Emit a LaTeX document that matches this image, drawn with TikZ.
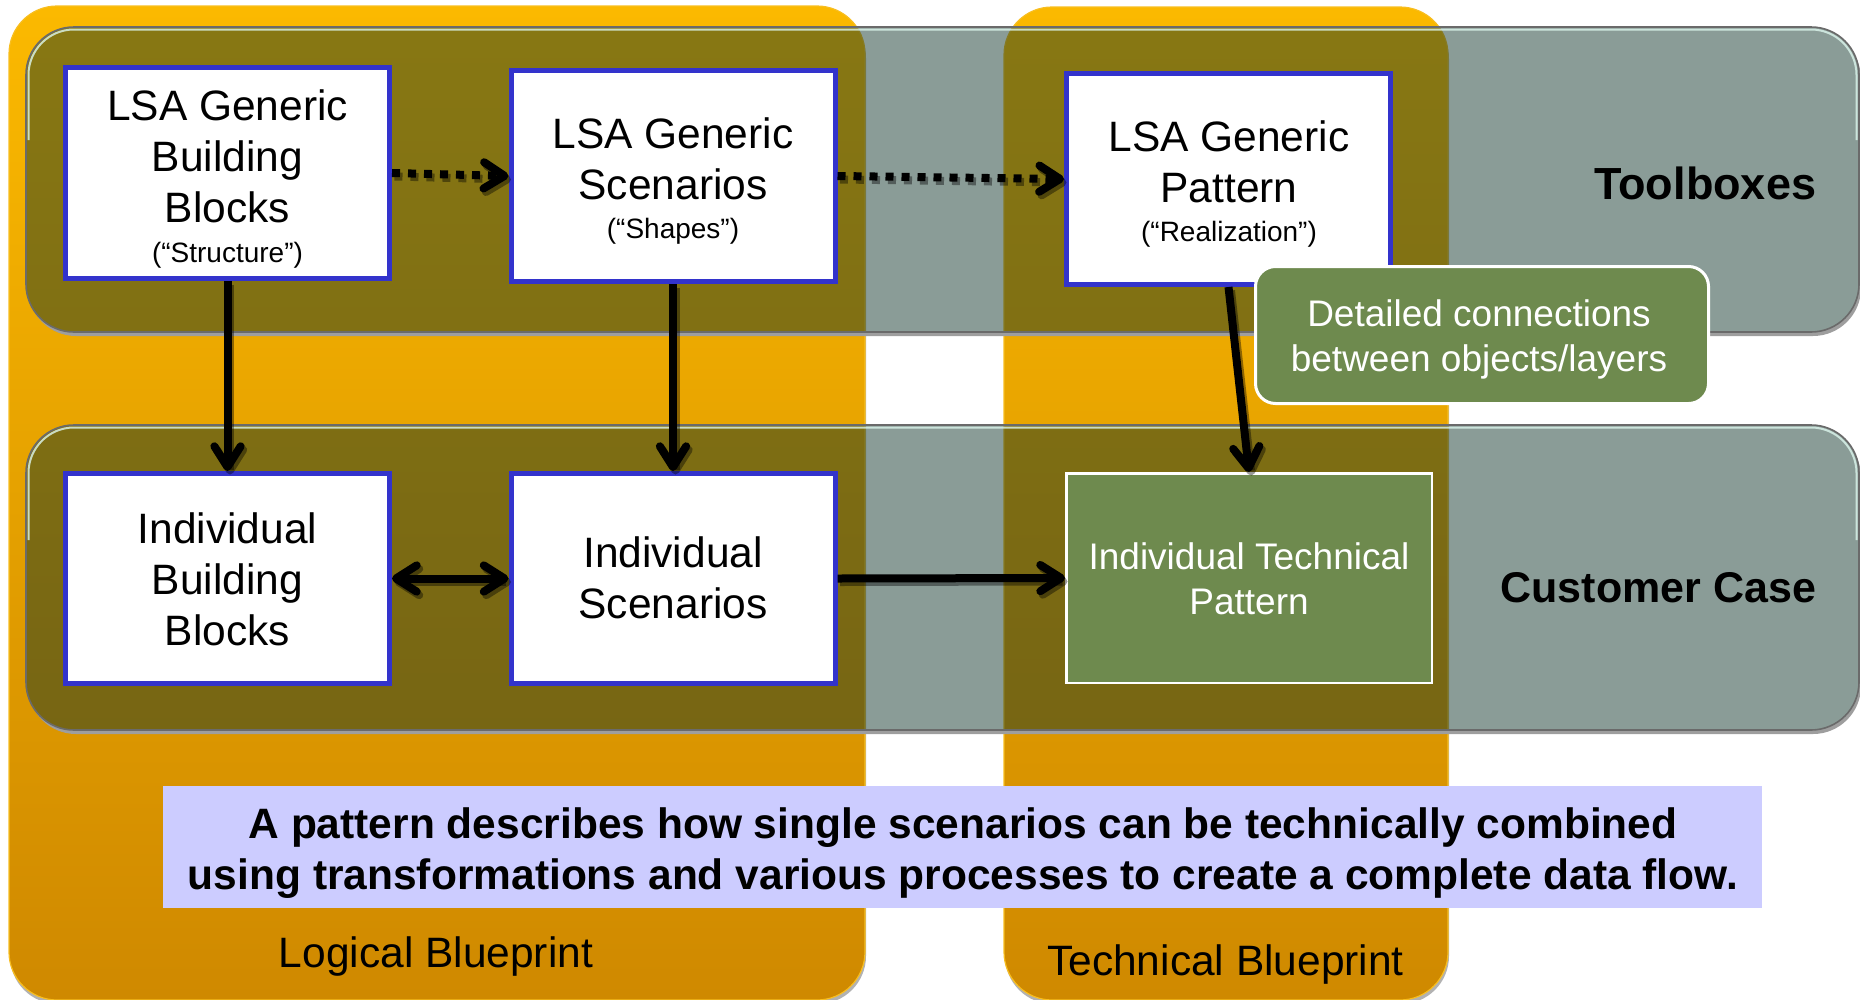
\documentclass[tikz,border=0pt]{standalone}
\usepackage{fontspec}
\setmainfont{Liberation Sans}
\usetikzlibrary{calc}
\definecolor{orgtop}{HTML}{FBB900}
\definecolor{orgmid}{RGB}{239,168,0}
\definecolor{orgbot}{HTML}{CF8900}
\definecolor{orgedge}{HTML}{F8BE20}
\definecolor{bandfill}{RGB}{15,52,41}
\definecolor{bandline}{HTML}{6A6A6A}
\definecolor{boxblue}{HTML}{3333CC}
\definecolor{olivegreen}{HTML}{6E8A4E}
\definecolor{lav}{HTML}{CCCCFF}
\definecolor{hilite}{HTML}{DDF7EE}
\newcommand\smalltxt[1]{{\fontsize{28}{34}\selectfont #1}}
\newcommand\conn[4]{%
  \draw[#1, shorten >=5pt] (#3) -- (#4);
  \draw[#2] ($(#4)!28pt!28:(#3)$) -- ($(#4)!4pt!(#3)$) -- ($(#4)!28pt!-28:(#3)$);}
\newcommand\dconn[4]{%
  \draw[#1, shorten >=5pt, shorten <=5pt] (#3) -- (#4);
  \draw[#2] ($(#4)!28pt!28:(#3)$) -- ($(#4)!4pt!(#3)$) -- ($(#4)!28pt!-28:(#3)$);
  \draw[#2] ($(#3)!28pt!28:(#4)$) -- ($(#3)!4pt!(#4)$) -- ($(#3)!28pt!-28:(#4)$);}
\newcommand\allconn[3]{%
  \conn{#2}{#3}{gbb.east}{gsc.west}
  \conn{#2}{#3}{gsc.east}{gpat.west}
  \conn{#1}{#3}{gbb.south}{ibb.north}
  \conn{#1}{#3}{gsc.south}{isc.north}
  \conn{#1}{#3}{gpat.south}{itp.north}
  \conn{#1}{#3}{isc.east}{itp.west}
  \dconn{#1}{#3}{ibb.east}{isc.west}}
\tikzset{
  panel/.style={top color=orgtop, middle color=orgmid, bottom color=orgbot, draw=orgedge, line width=1.2pt, rounded corners=48pt},
  panelshadow/.style={fill=black!30, rounded corners=48pt},
  bandshadow/.style={fill=black!38, rounded corners=48pt},
  band/.style={fill=bandfill, fill opacity=0.486, draw=bandline, draw opacity=1, line width=1.6pt, rounded corners=48pt},
  hiline/.style={draw=hilite, draw opacity=0.8, line width=2pt, rounded corners=45.5pt},
  gbox/.style={draw=boxblue, line width=5pt, fill=white, inner sep=0pt, minimum width=324pt, minimum height=211pt},
  tbox/.style={draw=white, line width=2.5pt, fill=olivegreen, inner sep=0pt, minimum width=365.5pt, minimum height=209.5pt},
  dbox/.style={draw=white, line width=3pt, fill=olivegreen, inner sep=0pt, rounded corners=20pt, minimum width=453pt, minimum height=137pt},
  lavbox/.style={fill=lav, inner sep=0pt, minimum width=1599pt, minimum height=122pt},
  txt/.style={inner sep=0pt, outer sep=0pt, anchor=north, align=center, font=\fontsize{42.5}{51}\selectfont},
  wtxt/.style={txt, text=white, font=\fontsize{37}{45}\selectfont},
  lnst/.style={draw=black, line width=8pt},
  dotst/.style={draw=black, line width=8pt, dash pattern=on 8pt off 8pt},
  chevst/.style={draw=black, line width=8pt, line cap=round, line join=round},
  shd/.style={draw opacity=0.4}
}
\begin{document}
\begin{tikzpicture}[x=1pt,y=-1pt]
\useasboundingbox (0,0) rectangle (1860,999);
% blueprint panels
\fill[panelshadow] (10,10) rectangle (866,1004);
\fill[panelshadow] (1005,11) rectangle (1449,1004);
\path[panel] (9,6) rectangle (865,1000);
\path[panel] (1004,7) rectangle (1448,1000);
% band shadows
\begin{scope}[even odd rule, rounded corners=48pt]
\clip (-60,-60) rectangle (1960,1060) (26,27) rectangle (1859,332) (26,425) rectangle (1859,730);
\fill[bandshadow] (28,31) rectangle (1861,336);
\fill[bandshadow] (28,429) rectangle (1861,734);
\end{scope}
% bands
\path[band] (26,27) rectangle (1859,332);
\path[band] (26,425) rectangle (1859,730);
\draw[hiline] (28.5,140) -- (28.5,29.5) -- (1856.5,29.5) -- (1856.5,140);
\draw[hiline] (28.5,540) -- (28.5,427.5) -- (1856.5,427.5) -- (1856.5,540);
% boxes
\node[gbox] (gbb) at (227.5,173) {};
\node[gbox] (gsc) at (673,176) {};
\node[gbox] (gpat) at (1228.5,179) {};
\node[gbox, minimum height=210pt] (ibb) at (227.5,578.5) {};
\node[gbox, minimum height=210pt] (isc) at (673,578.5) {};
\node[tbox] (itp) at (1249,578) {};
% box texts
\node[txt] (gbbt) at (227.5,90) {LSA Generic\\Building\\Blocks\\[-11pt]\smalltxt{(“Structure”)}};
\node[txt] (gsct) at (673,118) {LSA Generic\\Scenarios\\[-12pt]\smalltxt{(“Shapes”)}};
\node[txt] (gpatt) at (1229,121) {LSA Generic\\Pattern\\[-12pt]\smalltxt{(“Realization”)}};
\node[txt] (ibbt) at (227.5,513) {Individual\\Building\\Blocks};
\node[txt] (isct) at (673,537) {Individual\\Scenarios};
\node[wtxt] (itpt) at (1249,543) {Individual Technical\\Pattern};
% connector shadows
\begin{scope}[transform canvas={shift={(2.5pt,-3.5pt)}}]
\allconn{lnst,shd}{dotst,shd}{chevst,shd}
\end{scope}
% connectors
\allconn{lnst}{dotst}{chevst}
% detail callout
\node[dbox] (det) at (1482,335) {};
\node[wtxt] (dett) at (1479,300) {Detailed connections\\between objects/layers};
% row labels
\node[txt, anchor=north east, font=\fontsize{45}{54}\selectfont\bfseries] (tbx) at (1816,167) {Toolboxes};
\node[txt, anchor=north east, font=\fontsize{43}{52}\selectfont\bfseries] (cc) at (1816,572) {Customer Case};
% statement
\node[lavbox] (stmt) at (962.5,847) {};
\node[txt, font=\fontsize{42.5}{51}\selectfont\bfseries] (stmtt) at (963,808) {A pattern describes how single scenarios can be technically combined\\using transformations and various processes to create a complete data flow.};
% column labels
\node[txt] (lbp) at (436,937) {Logical Blueprint};
\node[txt] (tbp) at (1225.5,945) {Technical Blueprint};
\end{tikzpicture}
\end{document}
